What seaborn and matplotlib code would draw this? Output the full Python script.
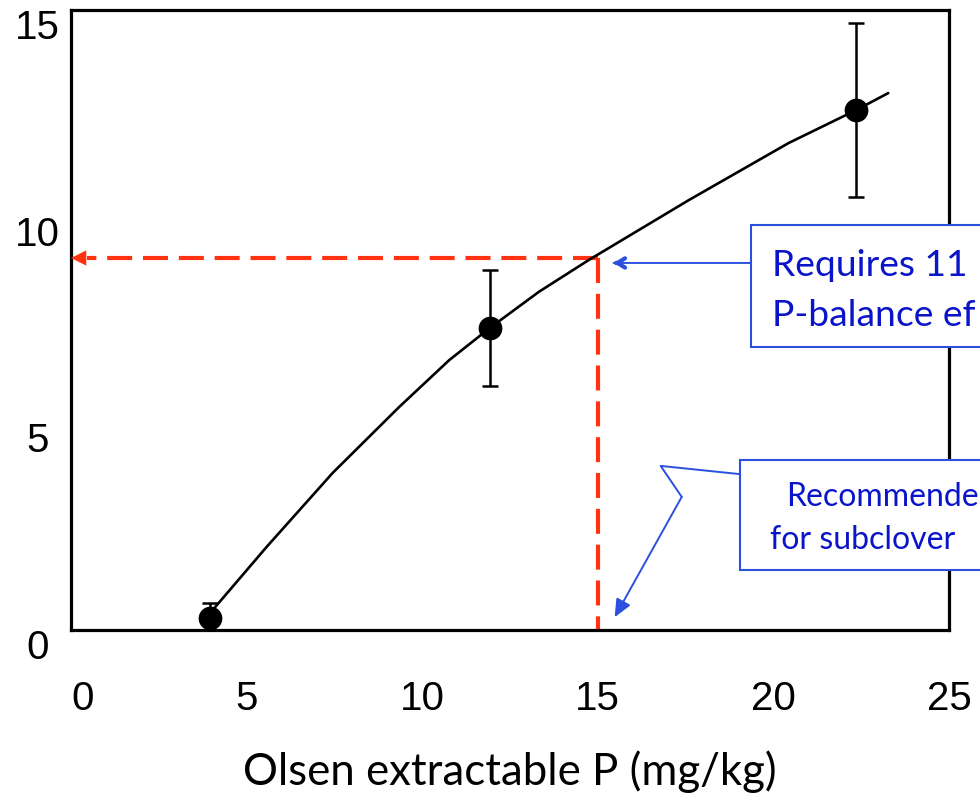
import matplotlib
matplotlib.use("Agg")
import matplotlib.pyplot as plt
import matplotlib.transforms as mtransforms
from matplotlib.patches import Rectangle
import seaborn as sns
import pandas as pd

# ---- data ----
obs_x = [3.95, 11.93, 22.36]
obs_y = [0.3, 7.31, 12.58]
obs_err = [0.35, 1.4, 2.1]

curve_x = [4.03, 5.57, 7.45, 9.35, 10.77, 11.93, 13.32, 14.74, 17.59, 20.43, 22.36, 23.27]
curve_y = [0.48, 2.01, 3.80, 5.40, 6.53, 7.31, 8.18, 8.95, 10.40, 11.78, 12.58, 12.99]

target_x = 15
target_y = 9.0

xticks = [0, 5, 10, 15, 20, 25]
yticks = [0, 5, 10, 15]
xlabel = "Olsen extractable P (mg/kg)"
box1_lines = ["Requires 11", "P-balance ef"]
box2_lines = ["Recommende", "for subclover"]

sns.set_theme(style="white")
plt.rcParams['font.family'] = ['Liberation Sans', 'DejaVu Sans']

fig = plt.figure(figsize=(9.8, 7.93), dpi=100)
ax = fig.add_axes([71/980, 1-630/793, 878/980, 620/793])

curve_df = pd.DataFrame({"x": curve_x, "y": curve_y})
sns.lineplot(data=curve_df, x="x", y="y", ax=ax, color="black", lw=1.9, sort=False, zorder=3)

ax.errorbar(obs_x, obs_y, yerr=obs_err, fmt="none", ecolor="black", elinewidth=1.8,
            capsize=6, capthick=1.8, zorder=3)
obs_df = pd.DataFrame({"x": obs_x, "y": obs_y})
sns.scatterplot(data=obs_df, x="x", y="y", ax=ax, color="black", s=250, edgecolor="black",
                zorder=4, legend=False)

red = "#FF3311"
ax.plot([target_x, target_x], [target_y, 0], color=red, lw=3, linestyle=(0, (6, 2.6)), zorder=2)
ax.plot([target_x, 0.45], [target_y, target_y], color=red, lw=3, linestyle=(0, (6, 2.6)), zorder=2)
ax.annotate("", xy=(0.0, target_y), xytext=(0.6, target_y),
            arrowprops=dict(arrowstyle="-|>,head_length=0.9,head_width=0.45", color=red, lw=0.1,
                            shrinkA=0, shrinkB=0), zorder=3)

ax.set_xlim(0, 25)
ax.set_ylim(0, 15)
ax.set_xticks(xticks)
ax.set_yticks(yticks)
ax.set_xticklabels([str(v) for v in xticks])
ax.set_yticklabels([str(v) for v in yticks])
ax.set_xlabel(xlabel, fontsize=31.5, family=['Lato', 'DejaVu Sans'], labelpad=23, color="black")
ax.set_ylabel("")

for s in ax.spines.values():
    s.set_linewidth(2.3)
    s.set_color("black")
ax.tick_params(axis="both", direction="in", length=7, width=2, labelsize=29, colors="black")
ax.tick_params(axis="x", pad=36)
ax.tick_params(axis="y", pad=24)

yoff = mtransforms.ScaledTranslation(0, -0.14, fig.dpi_scale_trans)
for lab in ax.get_yticklabels():
    lab.set_horizontalalignment("center")
    lab.set_transform(lab.get_transform() + yoff)
x0lab = ax.get_xticklabels()[0]
x0lab.set_transform(x0lab.get_transform() + mtransforms.ScaledTranslation(0.12, 0, fig.dpi_scale_trans))

blue_line = "#2a50dd"
blue_text = "#0a14c8"
lato = ['Lato', 'DejaVu Sans']

# box 1
ax.add_patch(Rectangle((19.35, 6.85), 8.0, 2.95, facecolor="white", edgecolor=blue_line,
                       lw=1.5, clip_on=False, zorder=6))
ax.text(19.95, 8.83, box1_lines[0], fontsize=26.8, color=blue_text, family=lato,
        va="center", ha="left", clip_on=False, zorder=7)
ax.text(19.95, 7.60, box1_lines[1], fontsize=26.8, color=blue_text, family=lato,
        va="center", ha="left", clip_on=False, zorder=7)
ax.annotate("", xy=(15.45, 8.88), xytext=(19.35, 8.88),
            arrowprops=dict(arrowstyle="-", color=blue_line, lw=1.4, shrinkA=0, shrinkB=0), zorder=5)
ax.annotate("", xy=(15.45, 8.88), xytext=(15.55, 8.88),
            arrowprops=dict(arrowstyle="->,head_length=0.45,head_width=0.28", color=blue_line,
                            lw=3, shrinkA=0, shrinkB=0), zorder=5)

# box 2
ax.add_patch(Rectangle((19.06, 1.45), 8.0, 2.66, facecolor="white", edgecolor=blue_line,
                       lw=1.5, clip_on=False, zorder=6))
ax.text(20.35, 3.22, box2_lines[0], fontsize=23, color=blue_text, family=lato,
        va="center", ha="left", clip_on=False, zorder=7)
ax.text(19.9, 2.18, box2_lines[1], fontsize=23, color=blue_text, family=lato,
        va="center", ha="left", clip_on=False, zorder=7)
ax.plot([19.06, 16.79, 17.39], [3.77, 3.97, 3.22], color=blue_line, lw=1.4, zorder=5)
ax.annotate("", xy=(15.48, 0.31), xytext=(17.39, 3.22),
            arrowprops=dict(arrowstyle="-|>,head_length=0.9,head_width=0.4", color=blue_line,
                            lw=1.4, shrinkA=0, shrinkB=0), zorder=5)

fig.savefig("out.png", dpi=100)
